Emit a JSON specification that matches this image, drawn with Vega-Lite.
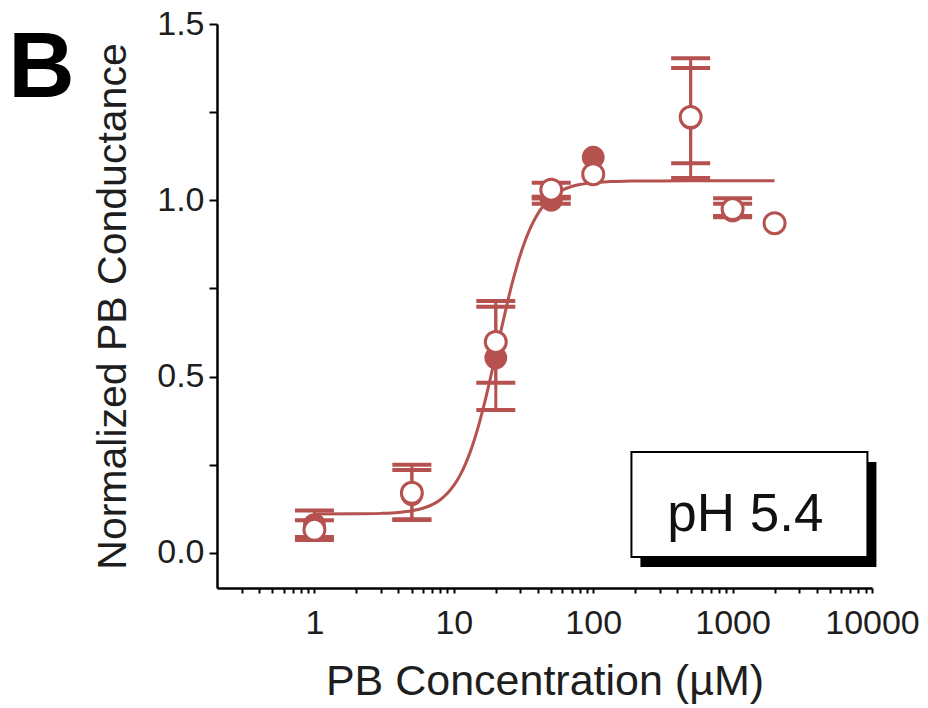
{
  "$schema": "https://vega.github.io/schema/vega-lite/v6.json",
  "width": 655,
  "height": 564,
  "autosize": {"type": "none"},
  "padding": {"left": 217, "top": 24, "right": 56, "bottom": 120},
  "background": "white",
  "config": {"view": {"stroke": null}, "font": "Liberation Sans"},
  "datasets": {
    "pts": [
      {"conc": 1, "series": "filled", "mean": 0.08, "lo": 0.045, "hi": 0.12},
      {"conc": 1, "series": "open", "mean": 0.065, "lo": 0.036, "hi": 0.092},
      {"conc": 5, "series": "filled", "mean": 0.165, "lo": 0.095, "hi": 0.235},
      {"conc": 5, "series": "open", "mean": 0.17, "lo": 0.093, "hi": 0.25},
      {"conc": 20, "series": "filled", "mean": 0.553, "lo": 0.405, "hi": 0.698},
      {"conc": 20, "series": "open", "mean": 0.598, "lo": 0.482, "hi": 0.714},
      {"conc": 50, "series": "filled", "mean": 1.0, "lo": 0.99, "hi": 1.01},
      {"conc": 50, "series": "open", "mean": 1.03, "lo": 1.005, "hi": 1.05},
      {"conc": 100, "series": "filled", "mean": 1.122, "lo": null, "hi": null},
      {"conc": 100, "series": "open", "mean": 1.074, "lo": null, "hi": null},
      {"conc": 500, "series": "filled", "mean": 1.233, "lo": 1.063, "hi": 1.403},
      {"conc": 500, "series": "open", "mean": 1.236, "lo": 1.105, "hi": 1.375},
      {"conc": 1000, "series": "filled", "mean": 0.97, "lo": 0.952, "hi": 0.99},
      {"conc": 1000, "series": "open", "mean": 0.975, "lo": 0.955, "hi": 1.006},
      {"conc": 2000, "series": "open", "mean": 0.935, "lo": null, "hi": null}
    ],
    "curve": [
      {"conc": 1, "fit": 0.110}, {"conc": 2, "fit": 0.1104}, {"conc": 3, "fit": 0.1117}, {"conc": 4, "fit": 0.1143},
      {"conc": 5, "fit": 0.1189}, {"conc": 6, "fit": 0.1261}, {"conc": 7, "fit": 0.1365}, {"conc": 8, "fit": 0.1505},
      {"conc": 9, "fit": 0.1686}, {"conc": 10, "fit": 0.1909}, {"conc": 11, "fit": 0.2174}, {"conc": 12, "fit": 0.2479},
      {"conc": 13, "fit": 0.2819}, {"conc": 14, "fit": 0.3191}, {"conc": 15, "fit": 0.3585}, {"conc": 16, "fit": 0.3994},
      {"conc": 17, "fit": 0.441}, {"conc": 18, "fit": 0.4826}, {"conc": 19, "fit": 0.5236}, {"conc": 20, "fit": 0.5632},
      {"conc": 22, "fit": 0.6373}, {"conc": 24, "fit": 0.7027}, {"conc": 26, "fit": 0.7589}, {"conc": 28, "fit": 0.8062},
      {"conc": 30, "fit": 0.8456}, {"conc": 33, "fit": 0.8924}, {"conc": 36, "fit": 0.9275}, {"conc": 40, "fit": 0.9613},
      {"conc": 45, "fit": 0.9893}, {"conc": 50, "fit": 1.0077}, {"conc": 60, "fit": 1.0285}, {"conc": 70, "fit": 1.0389},
      {"conc": 80, "fit": 1.0446}, {"conc": 100, "fit": 1.05}, {"conc": 130, "fit": 1.0529}, {"conc": 170, "fit": 1.0541},
      {"conc": 200, "fit": 1.0544}, {"conc": 300, "fit": 1.0548}, {"conc": 500, "fit": 1.055}, {"conc": 1000, "fit": 1.055},
      {"conc": 2000, "fit": 1.055}
    ],
    "note": [
      {"label": "pH 5.4", "left": 188, "right": 9270, "top": 0.286, "bottom": -0.012, "tx": 1236, "ty": 0.107}
    ],
    "panel": [
      {"label": "B", "px": 0.011, "py": 1.293}
    ]
  },
  "layer": [
    {
      "data": {"name": "curve"},
      "mark": {"type": "line", "color": "#b5524f", "strokeWidth": 3, "interpolate": "monotone"},
      "encoding": {
        "x": {
          "field": "conc", "type": "quantitative",
          "scale": {"type": "log", "domain": [0.2, 10000], "nice": false},
          "axis": {
            "title": "PB Concentration (µM)",
            "values": [0.3, 0.4, 0.5, 0.6, 0.7, 0.8, 0.9, 1, 2, 3, 4, 5, 6, 7, 8, 9, 10, 20, 30, 40, 50, 60, 70, 80, 90, 100, 200, 300, 400, 500, 600, 700, 800, 900, 1000, 2000, 3000, 4000, 5000, 6000, 7000, 8000, 9000, 10000],
            "labelExpr": "indexof([1,10,100,1000,10000], datum.value) >= 0 ? format(datum.value, 'd') : ''",
            "labelOverlap": false, "labelBound": false, "labelFlush": false,
            "grid": false,
            "tickSize": 5, "tickWidth": 2, "tickColor": "black",
            "domainColor": "black", "domainWidth": 2.5,
            "labelFontSize": 34, "labelColor": "#1e1e1e", "labelPadding": 13, "labelFont": "Liberation Sans",
            "titleFontSize": 43, "titleFontWeight": "normal", "titleColor": "#1e1e1e", "titlePadding": 20, "titleFont": "Liberation Sans",
            "encode": {"ticks": {"update": {"y2": {"signal": "indexof([1,10,100,1000,10000], datum.value) >= 0 ? 10 : 5"}}}}
          }
        },
        "y": {
          "field": "fit", "type": "quantitative",
          "scale": {"domain": [-0.1, 1.5], "nice": false, "zero": false},
          "axis": {
            "title": "Normalized PB Conductance",
            "values": [0, 0.25, 0.5, 0.75, 1, 1.25, 1.5],
            "labelExpr": "(datum.value * 2) % 1 == 0 ? format(datum.value, '.1f') : ''",
            "labelOverlap": false, "labelBound": false, "labelFlush": false,
            "grid": false,
            "tickSize": 8, "tickWidth": 2, "tickColor": "black",
            "domainColor": "black", "domainWidth": 2.5,
            "labelFontSize": 34, "labelColor": "#1e1e1e", "labelPadding": 5, "labelFont": "Liberation Sans",
            "titleFontSize": 41, "titleFontWeight": "normal", "titleColor": "#1e1e1e", "titlePadding": 22, "titleFont": "Liberation Sans"
          }
        }
      }
    },
    {
      "data": {"name": "panel"},
      "mark": {"type": "text", "fontSize": 92, "fontWeight": "bold", "font": "Liberation Sans", "color": "black", "align": "center", "baseline": "alphabetic"},
      "encoding": {
        "x": {"field": "px", "type": "quantitative"},
        "y": {"field": "py", "type": "quantitative"},
        "text": {"field": "label"}
      }
    },
    {
      "data": {"name": "note"},
      "mark": {"type": "rect", "fill": "black", "xOffset": 9, "x2Offset": 9, "yOffset": 10, "y2Offset": 10},
      "encoding": {
        "x": {"field": "left", "type": "quantitative"},
        "x2": {"field": "right"},
        "y": {"field": "top", "type": "quantitative"},
        "y2": {"field": "bottom"}
      }
    },
    {
      "data": {"name": "note"},
      "mark": {"type": "rect", "fill": "white", "stroke": "black", "strokeWidth": 2},
      "encoding": {
        "x": {"field": "left", "type": "quantitative"},
        "x2": {"field": "right"},
        "y": {"field": "top", "type": "quantitative"},
        "y2": {"field": "bottom"}
      }
    },
    {
      "data": {"name": "note"},
      "mark": {"type": "text", "fontSize": 53, "font": "Liberation Sans", "color": "#111", "align": "center", "baseline": "middle"},
      "encoding": {
        "x": {"field": "tx", "type": "quantitative"},
        "y": {"field": "ty", "type": "quantitative"},
        "text": {"field": "label"}
      }
    },
    {
      "data": {"name": "pts"},
      "transform": [{"filter": "isValid(datum.lo)"}],
      "mark": {"type": "rule", "color": "#b5524f", "strokeWidth": 3},
      "encoding": {
        "x": {"field": "conc", "type": "quantitative"},
        "y": {"field": "lo", "type": "quantitative"},
        "y2": {"field": "hi"}
      }
    },
    {
      "data": {"name": "pts"},
      "transform": [{"filter": "isValid(datum.lo)"}],
      "mark": {"type": "tick", "orient": "horizontal", "color": "#b5524f", "size": 39, "thickness": 4, "opacity": 1},
      "encoding": {
        "x": {"field": "conc", "type": "quantitative"},
        "y": {"field": "hi", "type": "quantitative"}
      }
    },
    {
      "data": {"name": "pts"},
      "transform": [{"filter": "isValid(datum.lo)"}],
      "mark": {"type": "tick", "orient": "horizontal", "color": "#b5524f", "size": 39, "thickness": 4, "opacity": 1},
      "encoding": {
        "x": {"field": "conc", "type": "quantitative"},
        "y": {"field": "lo", "type": "quantitative"}
      }
    },
    {
      "data": {"name": "pts"},
      "transform": [{"filter": "datum.series === 'filled'"}],
      "mark": {"type": "point", "shape": "circle", "filled": true, "color": "#b5524f", "size": 520, "opacity": 1},
      "encoding": {
        "x": {"field": "conc", "type": "quantitative"},
        "y": {"field": "mean", "type": "quantitative"}
      }
    },
    {
      "data": {"name": "pts"},
      "transform": [{"filter": "datum.series === 'open'"}],
      "mark": {"type": "point", "shape": "circle", "filled": false, "fill": "white", "fillOpacity": 1, "stroke": "#b5524f", "strokeWidth": 3, "size": 440, "opacity": 1},
      "encoding": {
        "x": {"field": "conc", "type": "quantitative"},
        "y": {"field": "mean", "type": "quantitative"}
      }
    }
  ]
}
